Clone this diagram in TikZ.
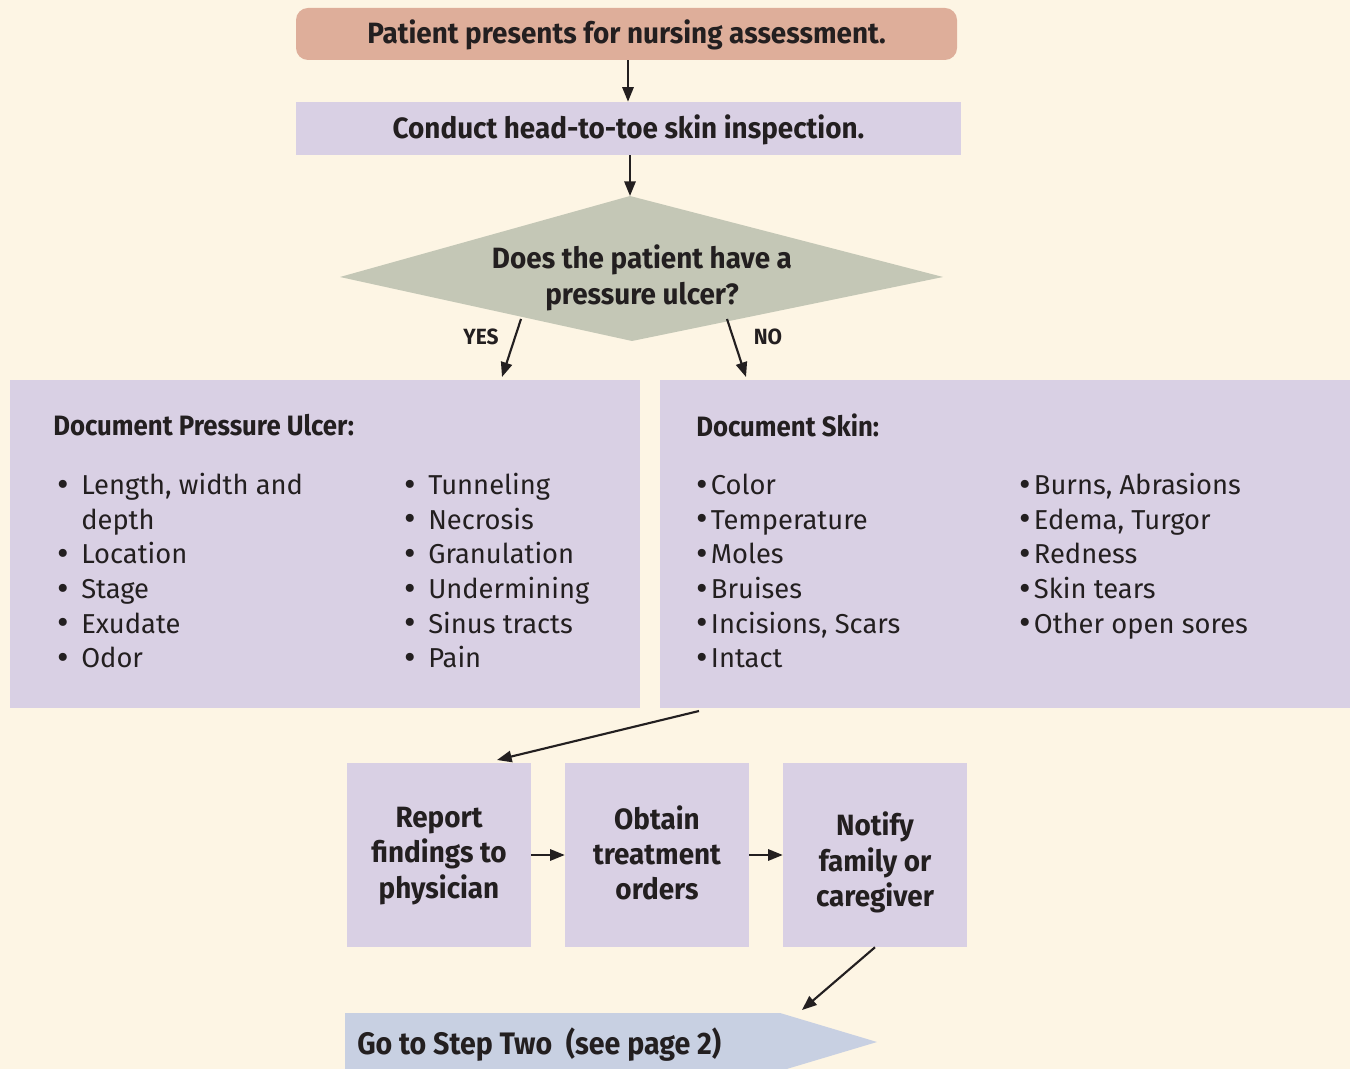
\documentclass[tikz,border=0pt]{standalone}
\usepackage{fontspec}
\setmainfont{Fira Sans}
\newfontfamily\hbold[FakeStretch=0.95]{Fira Sans Bold}
\newfontfamily\hcond[FakeStretch=0.92]{Fira Sans Bold}
\usetikzlibrary{arrows.meta}
\definecolor{bgc}{HTML}{FDF5E4}
\definecolor{topc}{HTML}{DEAE9A}
\definecolor{boxc}{HTML}{D9D0E4}
\definecolor{diac}{HTML}{C4C7B6}
\definecolor{goc}{HTML}{C8D0E2}
\definecolor{ink}{HTML}{231F20}
\newcommand{\bigbul}{\raisebox{-1.3pt}{\scalebox{1.3}{\textbullet}}}
\newcommand{\bulL}{\makebox[18pt][l]{\bigbul}}
\newcommand{\bulR}{\makebox[11pt][l]{\bigbul}}
\tikzset{
  flowarrow/.style={draw=ink, line width=1.6pt, -{Triangle[length=11pt,width=8.5pt]}},
  headtext/.style={font=\hbold\fontsize{22}{27}\selectfont, text=ink},
  smalltext/.style={font=\hbold\fontsize{16.5}{18}\selectfont, text=ink},
  bodytext/.style={font=\fontsize{20.5}{26}\selectfont, text=ink, align=left, anchor=north west, inner sep=0pt},
  purplebox/.style={fill=boxc, draw=none},
  stepbox/.style={purplebox, minimum width=138pt, minimum height=138pt, inner sep=0pt},
  steptext/.style={align=center, font=\hbold\fontsize{22}{26.4}\selectfont, text=ink, inner sep=0pt},
}
\begin{document}
\begin{tikzpicture}[x=0.75pt,y=-0.75pt]
\fill[bgc] (0,0) rectangle (1350,1069);
\useasboundingbox (0,0) rectangle (1350,1069);

% top
\node[fill=topc, rounded corners=9pt, minimum width=661*0.75pt, minimum height=52*0.75pt, inner sep=0pt] (start) at (626.5,34) {};
\node[headtext] (starttxt) at (626.5,35) {Patient presents for nursing assessment.};
\node[purplebox, minimum width=665*0.75pt, minimum height=53*0.75pt, inner sep=0pt] (inspect) at (628.5,128.5) {};
\node[headtext] (inspecttxt) at (628.5,130) {Conduct head-to-toe skin inspection.};
\draw[flowarrow] (start.south -| 628,0) -- (inspect.north -| 628,0);

% diamond
\coordinate (dtop) at (630,196);
\coordinate (dleft) at (340,277);
\coordinate (dright) at (943,277);
\coordinate (dbot) at (632,341);
\fill[diac] (dtop) -- (dright) -- (dbot) -- (dleft) -- cycle;
\node[headtext, align=center] (question) at (642,278) {Does the patient have a\\pressure ulcer?};
\draw[flowarrow] (inspect.south -| dtop) -- (dtop);

% yes / no
\coordinate (yesfrom) at (521,319);
\coordinate (nofrom) at (727,319);
\coordinate (yesto) at (502,377);
\coordinate (noto) at (746,377);
\draw[flowarrow] (yesfrom) -- (yesto);
\draw[flowarrow] (nofrom) -- (noto);
\node[smalltext] (yeslbl) at (481,337) {YES};
\node[smalltext] (nolbl) at (768,337) {NO};

% big boxes
\node[purplebox, minimum width=630*0.75pt, minimum height=328*0.75pt, inner sep=0pt] (ulcer) at (325,544) {};
\node[purplebox, minimum width=690*0.75pt, minimum height=328*0.75pt, inner sep=0pt] (skin) at (1005,544) {};

\node[anchor=west, inner sep=0pt, text=ink, font=\hcond\fontsize{21}{24}\selectfont] (ulcerhead) at (53,425) {Document Pressure Ulcer:};
\node[anchor=west, inner sep=0pt, text=ink, font=\hcond\fontsize{21}{24}\selectfont] (skinhead) at (696,425) {Document Skin:};

\node[bodytext] (ulcerA) at (57,470) {\begin{tabular}{@{}l@{}l@{}}
\bulL & Length, width and\\ & depth\\ \bulL & Location\\ \bulL & Stage\\ \bulL & Exudate\\ \bulL & Odor\end{tabular}};
\node[bodytext] (ulcerB) at (404,470) {\begin{tabular}{@{}l@{}l@{}}
\bulL & Tunneling\\ \bulL & Necrosis\\ \bulL & Granulation\\ \bulL & Undermining\\ \bulL & Sinus tracts\\ \bulL & Pain\end{tabular}};
\node[bodytext] (skinA) at (696,470) {\begin{tabular}{@{}l@{}l@{}}
\bulR & Color\\ \bulR & Temperature\\ \bulR & Moles\\ \bulR & Bruises\\ \bulR & Incisions, Scars\\ \bulR & Intact\end{tabular}};
\node[bodytext] (skinB) at (1019,470) {\begin{tabular}{@{}l@{}l@{}}
\bulR & Burns, Abrasions\\ \bulR & Edema, Turgor\\ \bulR & Redness\\ \bulR & Skin tears\\ \bulR & Other open sores\end{tabular}};

% step boxes
\node[stepbox] (report) at (439,855) {};
\node[steptext] (reporttxt) at (439,856) {Report\\findings to\\physician};
\node[stepbox] (obtain) at (657,855) {};
\node[steptext] (obtaintxt) at (657,853) {Obtain\\treatment\\orders};
\node[stepbox] (notify) at (875,855) {};
\node[steptext] (notifytxt) at (875,862.5) {Notify\\family or\\caregiver};
\coordinate (skinout) at (699,711);
\coordinate (reportin) at (497,760);
\draw[flowarrow] (skinout) -- (reportin);
\draw[flowarrow] (report.east) -- (obtain.west);
\draw[flowarrow] (obtain.east) -- (notify.west);

% go to step two
\fill[goc] (345,1013) -- (780,1013) -- (877,1042) -- (780,1071) -- (345,1071) -- cycle;
\node[anchor=west, inner sep=0pt, text=ink, font=\hcond\fontsize{23.3}{25}\selectfont] (gonext) at (357,1045) {Go to Step Two\ \ (see page 2)};
\coordinate (goin) at (802,1010);
\draw[flowarrow] (notify.south) -- (goin);
\end{tikzpicture}
\end{document}
